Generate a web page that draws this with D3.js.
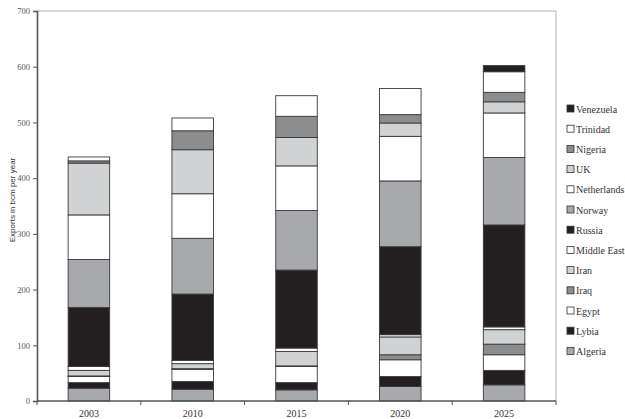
<!DOCTYPE html>
<html>
<head>
<meta charset="utf-8">
<script src="https://cdn.jsdelivr.net/npm/d3@7"></script>
<style>
  body { margin: 0; background: #fff; }
</style>
</head>
<body>
<div id="chart"></div>
<script>
// Data (bcm per year)
const years = ["2003", "2010", "2015", "2020", "2025"];
const countries = ["Algeria", "Lybia", "Egypt", "Iraq", "Iran", "Middle East", "Russia",
  "Norway", "Netherlands", "UK", "Nigeria", "Trinidad", "Venezuela"];
const algeria     = [23, 21, 20, 26, 29];
const lybia       = [10, 14, 13, 18, 26];
const egypt       = [11, 22, 29, 30, 28];
const iraq        = [1, 1, 1, 9, 19];
const iran        = [10, 9, 26, 32, 26];
const middleEast  = [7, 6, 6, 4, 5];
const russia      = [106, 119, 140, 158, 183];
const norway      = [86, 100, 107, 118, 121];
const netherlands = [80, 80, 80, 80, 80];
const uk          = [93, 79, 51, 24, 20];
const nigeria     = [4, 34, 38, 15, 17];
const trinidad    = [7, 23, 37, 47, 37];
const venezuela   = [0, 0, 0, 0, 11];
const yTicks = [0, 100, 200, 300, 400, 500, 600, 700];

const seriesValues = [algeria, lybia, egypt, iraq, iran, middleEast, russia,
  norway, netherlands, uk, nigeria, trinidad, venezuela];

// one row per year for d3.stack
const table = years.map((yr, i) => {
  const row = { year: yr };
  countries.forEach((c, j) => row[c] = seriesValues[j][i]);
  return row;
});

const dark = "#231f20", mid = "#a7a9ac", darker = "#8c8d8f", light = "#d1d2d4", white = "#ffffff";
const fills = [mid, dark, white, darker, light, white, dark, mid, white, light, darker, white, dark];

const width = 625, height = 419;
const m = { left: 37, right: 556, top: 11, bottom: 401 };

const svg = d3.select("#chart").append("svg")
  .attr("width", width)
  .attr("height", height);

const x = d3.scaleBand()
  .domain(years)
  .range([m.left, m.right])
  .paddingInner(0.6)
  .paddingOuter(0.3);

const y = d3.scaleLinear()
  .domain([0, 700])
  .range([m.bottom, m.top]);

// plot frame (top and right)
svg.append("path")
  .attr("d", `M${m.left},${m.top}H${m.right}V${m.bottom}`)
  .attr("fill", "none")
  .attr("stroke", "#b0b0b0")
  .attr("stroke-width", 1);

const stacked = d3.stack().keys(countries)(table);

svg.append("g")
  .selectAll("g")
  .data(stacked)
  .join("g")
  .attr("fill", (d, i) => fills[i])
  .selectAll("rect")
  .data(d => d.filter(p => p[1] - p[0] > 0))
  .join("rect")
  .attr("x", d => x(d.data.year))
  .attr("y", d => y(d[1]))
  .attr("width", x.bandwidth())
  .attr("height", d => y(d[0]) - y(d[1]))
  .attr("stroke", "#3a3a3a")
  .attr("stroke-width", 0.9);

// y axis
const yAxis = svg.append("g")
  .attr("transform", `translate(${m.left},0)`)
  .call(d3.axisLeft(y).tickValues(yTicks).tickSize(4).tickPadding(3));
yAxis.select(".domain").attr("stroke", "#555").attr("stroke-width", 1.6);
yAxis.selectAll(".tick line").attr("stroke", "#555");
yAxis.selectAll("text")
  .attr("font-family", "Liberation Serif")
  .attr("font-size", 8.5)
  .attr("fill", "#555");

// x axis: ticks at category boundaries
const step = x.step();
const xg = svg.append("g");
xg.append("line")
  .attr("x1", m.left).attr("x2", m.right)
  .attr("y1", m.bottom).attr("y2", m.bottom)
  .attr("stroke", "#555").attr("stroke-width", 1.6);
xg.selectAll(".bt")
  .data(d3.range(years.length + 1))
  .join("line")
  .attr("class", "bt")
  .attr("x1", i => m.left + i * step)
  .attr("x2", i => m.left + i * step)
  .attr("y1", m.bottom).attr("y2", m.bottom + 4)
  .attr("stroke", "#555");
xg.selectAll("text")
  .data(years)
  .join("text")
  .attr("x", d => x(d) + x.bandwidth() / 2)
  .attr("y", 417)
  .attr("text-anchor", "middle")
  .attr("font-family", "Liberation Serif")
  .attr("font-size", 10)
  .attr("fill", "#333")
  .text(d => d);

// y label
svg.append("text")
  .attr("transform", "translate(15,200) rotate(-90)")
  .attr("text-anchor", "middle")
  .attr("font-family", "Liberation Sans")
  .attr("font-size", 8)
  .attr("fill", "#333")
  .text("Exports in bcm per year");

// legend, top entry is the last series
const legend = svg.append("g")
  .selectAll("g")
  .data(countries.map((c, i) => ({ name: c, fill: fills[i] })).reverse())
  .join("g")
  .attr("transform", (d, i) => `translate(567,${109 + i * 20.2})`);

legend.append("rect")
  .attr("x", 0).attr("y", -4)
  .attr("width", 7).attr("height", 7)
  .attr("fill", d => d.fill)
  .attr("stroke", "#333")
  .attr("stroke-width", 0.8);

legend.append("text")
  .attr("x", 9).attr("y", 3.5)
  .attr("font-family", "Liberation Serif")
  .attr("font-size", 10)
  .attr("fill", "#333")
  .text(d => d.name);
</script>
</body>
</html>
